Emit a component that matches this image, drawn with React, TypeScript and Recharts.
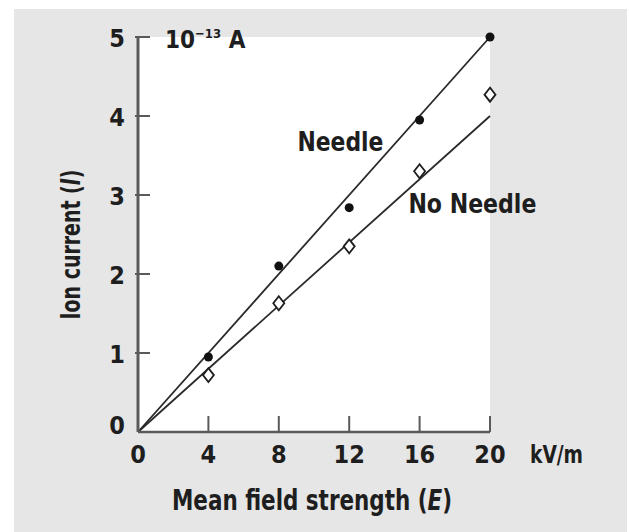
import {
  Line,
  XAxis,
  YAxis,
  Label,
  Scatter,
  ReferenceDot,
  CartesianGrid,
  ComposedChart,
} from "recharts";

type Point = { x: number; y: number };

// field strength (kV/m)
const fieldStrength = [4, 8, 12, 16, 20];
// ion current, 10^-13 A
const needleValues = [0.95, 2.1, 2.84, 3.95, 5.0];
const noNeedleValues = [0.72, 1.63, 2.35, 3.3, 4.27];
// fitted straight lines through origin
const needleFitEnds = [0, 5];
const noNeedleFitEnds = [0, 4];
const fitX = [0, 20];

const xTicks = [0, 4, 8, 12, 16, 20];
const yTicks = [0, 1, 2, 3, 4, 5];

const needle: Point[] = fieldStrength.map((x, i) => ({ x, y: needleValues[i] }));
const noNeedle: Point[] = fieldStrength.map((x, i) => ({ x, y: noNeedleValues[i] }));
const needleFit: Point[] = fitX.map((x, i) => ({ x, y: needleFitEnds[i] }));
const noNeedleFit: Point[] = fitX.map((x, i) => ({ x, y: noNeedleFitEnds[i] }));

const FONT = "'Liberation Sans Narrow', 'Arial Narrow', 'DejaVu Sans Condensed', sans-serif";
const INK = "#1e1e1e";
const AXIS = "#5a5a5a";
const GAP_Y = 13;
const GAP_X = 11;

const YTick = (props: any) => {
  const { x, y, payload } = props;
  const ax = x + GAP_Y;
  const zero = payload.value === 0;
  return (
    <g>
      {!zero && <line x1={ax - 3} x2={ax + 12} y1={y} y2={y} stroke={AXIS} strokeWidth={2} />}
      <text x={x} y={y} dy={zero ? 2 : 10} textAnchor="end" fontFamily={FONT} fontWeight="bold" fontSize={25} fill={INK}>
        {payload.value}
      </text>
    </g>
  );
};

const XTick = (props: any) => {
  const { x, y, payload } = props;
  const ay = y - GAP_X;
  const zero = payload.value === 0;
  return (
    <g>
      {!zero && <line x1={x} x2={x} y1={ay} y2={ay - 16} stroke={AXIS} strokeWidth={2} />}
      <text x={x} y={y} dy={20} textAnchor="middle" fontFamily={FONT} fontWeight="bold" fontSize={25} fill={INK}>
        {payload.value}
      </text>
    </g>
  );
};

const Diamond = (props: any) => {
  const { cx, cy } = props;
  return (
    <path
      d={`M${cx},${cy - 7} L${cx + 5.5},${cy} L${cx},${cy + 7} L${cx - 5.5},${cy} Z`}
      fill="#fff"
      stroke={INK}
      strokeWidth={1.8}
    />
  );
};

const Blob = (props: any) => {
  const { cx, cy } = props;
  return <circle cx={cx} cy={cy} r={4.5} fill="#111" />;
};

const textStyle = { fontFamily: FONT, fontWeight: "bold" as const, fill: INK };

export default function App() {
  return (
    <div style={{ position: "absolute", left: 0, top: 0, width: 629, height: 532, background: "#fff" }}>
      <div style={{ position: "absolute", left: 14, top: 9, width: 613, height: 523, background: "#e6e6e6" }}>
        <ComposedChart width={613} height={523} margin={{ top: 28, right: 137, bottom: 60, left: 64 }}>
          <CartesianGrid fill="#fff" horizontal={false} vertical={false} stroke="none" />
          <XAxis
            type="number"
            dataKey="x"
            domain={[0, 20]}
            ticks={xTicks}
            height={40}
            tickSize={0}
            tickMargin={GAP_X}
            tickLine={false}
            axisLine={{ stroke: AXIS, strokeWidth: 2.5 }}
            tick={<XTick />}
          >
            <Label
              content={(p: any) => {
                const vb = p.viewBox;
                return (
                  <g>
                    <text
                      x={vb.x + vb.width / 2 - 2}
                      y={vb.y + 78}
                      textAnchor="middle"
                      fontSize={29}
                      textLength={280}
                      lengthAdjust="spacingAndGlyphs"
                      {...textStyle}
                    >
                      Mean field strength (<tspan fontStyle="italic">E</tspan>)
                    </text>
                    <text
                      x={vb.x + vb.width + 40}
                      y={vb.y + 31}
                      fontSize={25}
                      textLength={53}
                      lengthAdjust="spacingAndGlyphs"
                      {...textStyle}
                    >
                      kV/m
                    </text>
                  </g>
                );
              }}
            />
          </XAxis>
          <YAxis
            type="number"
            domain={[0, 5]}
            ticks={yTicks}
            width={60}
            tickSize={0}
            tickMargin={GAP_Y}
            tickLine={false}
            axisLine={{ stroke: AXIS, strokeWidth: 3 }}
            tick={<YTick />}
          >
            <Label
              content={(p: any) => {
                const vb = p.viewBox;
                const cx = vb.x - 8;
                const cy = vb.y + vb.height / 2 + 10;
                return (
                  <g>
                    <text
                      x={cx}
                      y={cy}
                      dy="0.36em"
                      textAnchor="middle"
                      transform={`rotate(-90, ${cx}, ${cy})`}
                      fontSize={27}
                      textLength={150}
                      lengthAdjust="spacingAndGlyphs"
                      {...textStyle}
                    >
                      Ion current (<tspan fontStyle="italic">I</tspan>)
                    </text>
                    <text x={vb.x + vb.width + 27} y={vb.y + 11} fontSize={24} {...textStyle}>
                      10
                      <tspan fontSize={13} dy={-10}>
                        −13
                      </tspan>
                      <tspan dy={10}> A</tspan>
                    </text>
                  </g>
                );
              }}
            />
          </YAxis>
          <Line data={needleFit} dataKey="y" stroke="#2a2a2a" strokeWidth={1.8} dot={false} isAnimationActive={false} />
          <Line data={noNeedleFit} dataKey="y" stroke="#2a2a2a" strokeWidth={1.8} dot={false} isAnimationActive={false} />
          <Scatter data={needle} dataKey="y" shape={<Blob />} isAnimationActive={false} />
          <Scatter data={noNeedle} dataKey="y" shape={<Diamond />} isAnimationActive={false} />
          <ReferenceDot
            x={11.5}
            y={3.68}
            r={0}
            shape={(p: any) => (
              <text x={p.cx} y={p.cy} dy="0.36em" textAnchor="middle" fontSize={26} textLength={86} lengthAdjust="spacingAndGlyphs" {...textStyle}>
                Needle
              </text>
            )}
          />
          <ReferenceDot
            x={19}
            y={2.89}
            r={0}
            ifOverflow="visible"
            shape={(p: any) => (
              <text x={p.cx} y={p.cy} dy="0.36em" textAnchor="middle" fontSize={26} textLength={128} lengthAdjust="spacingAndGlyphs" {...textStyle}>
                No Needle
              </text>
            )}
          />
        </ComposedChart>
      </div>
    </div>
  );
}
